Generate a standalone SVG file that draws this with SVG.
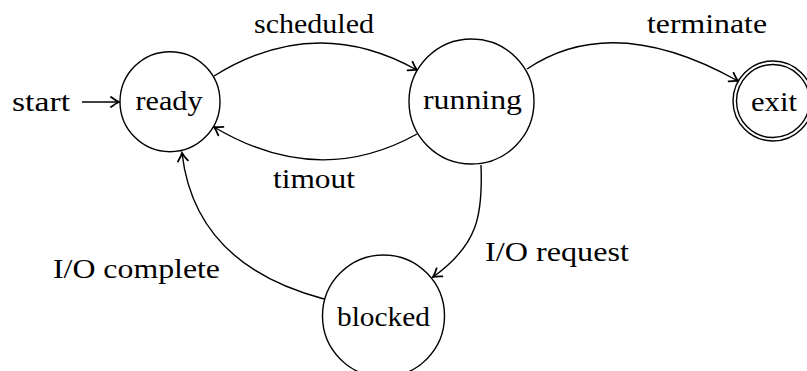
<svg xmlns="http://www.w3.org/2000/svg" width="807" height="371" viewBox="0 0 807 371">
<style>
.st{fill:#fff;stroke:#000;stroke-width:1.4}
.ed{fill:none;stroke:#000;stroke-width:1.4}
.t{font-family:"Liberation Serif","DejaVu Serif",serif;font-size:27px;fill:#000;text-anchor:middle}
</style>
<defs>
<marker id="ar" viewBox="-10 -6 12 12" refX="0" refY="0" markerWidth="12" markerHeight="12" markerUnits="userSpaceOnUse" orient="auto">
<path d="M-8,-5 Q-3,-1.2 0,0 Q-3,1.2 -8,5" fill="none" stroke="#000" stroke-width="1.8" stroke-linecap="round"/>
</marker>
</defs>
<g id="connectors">
<path class="ed" d="M82,102 L119,102" marker-end="url(#ar)"/>
<path class="ed" d="M214,76 Q315,13 417,70" marker-end="url(#ar)"/>
<path class="ed" d="M417,134 Q318,189 214,127" marker-end="url(#ar)"/>
<path class="ed" d="M527,69 Q613,11 738,81" marker-end="url(#ar)"/>
<path class="ed" d="M481,165 C483,215 478,245 433,277" marker-end="url(#ar)"/>
<path class="ed" d="M324,299 Q195,265 182,153" marker-end="url(#ar)"/>
<text class="t" x="41" y="111" textLength="58" lengthAdjust="spacingAndGlyphs">start</text>
<text class="t" x="314" y="33" textLength="120" lengthAdjust="spacingAndGlyphs">scheduled</text>
<text class="t" x="314" y="188" textLength="82" lengthAdjust="spacingAndGlyphs">timout</text>
<text class="t" x="707" y="33" textLength="120" lengthAdjust="spacingAndGlyphs">terminate</text>
<text class="t" x="136.5" y="278" textLength="167" lengthAdjust="spacingAndGlyphs">I/O complete</text>
<text class="t" x="557" y="261" textLength="144" lengthAdjust="spacingAndGlyphs">I/O request</text>
</g>
<g id="ready">
<circle class="st" cx="170" cy="101.7" r="50"/>
<text class="t" x="169" y="110" textLength="67" lengthAdjust="spacingAndGlyphs">ready</text>
</g>
<g id="running">
<circle class="st" cx="471.5" cy="101.5" r="62.5"/>
<text class="t" x="472.5" y="109" textLength="99" lengthAdjust="spacingAndGlyphs">running</text>
</g>
<g id="exit">
<circle class="st" cx="773" cy="101" r="40"/>
<circle class="st" cx="773" cy="101" r="36.5"/>
<text class="t" x="774" y="111" textLength="46" lengthAdjust="spacingAndGlyphs">exit</text>
</g>
<g id="blocked">
<circle class="st" cx="383.5" cy="316" r="61"/>
<text class="t" x="383.5" y="326" textLength="93" lengthAdjust="spacingAndGlyphs">blocked</text>
</g>
</svg>
